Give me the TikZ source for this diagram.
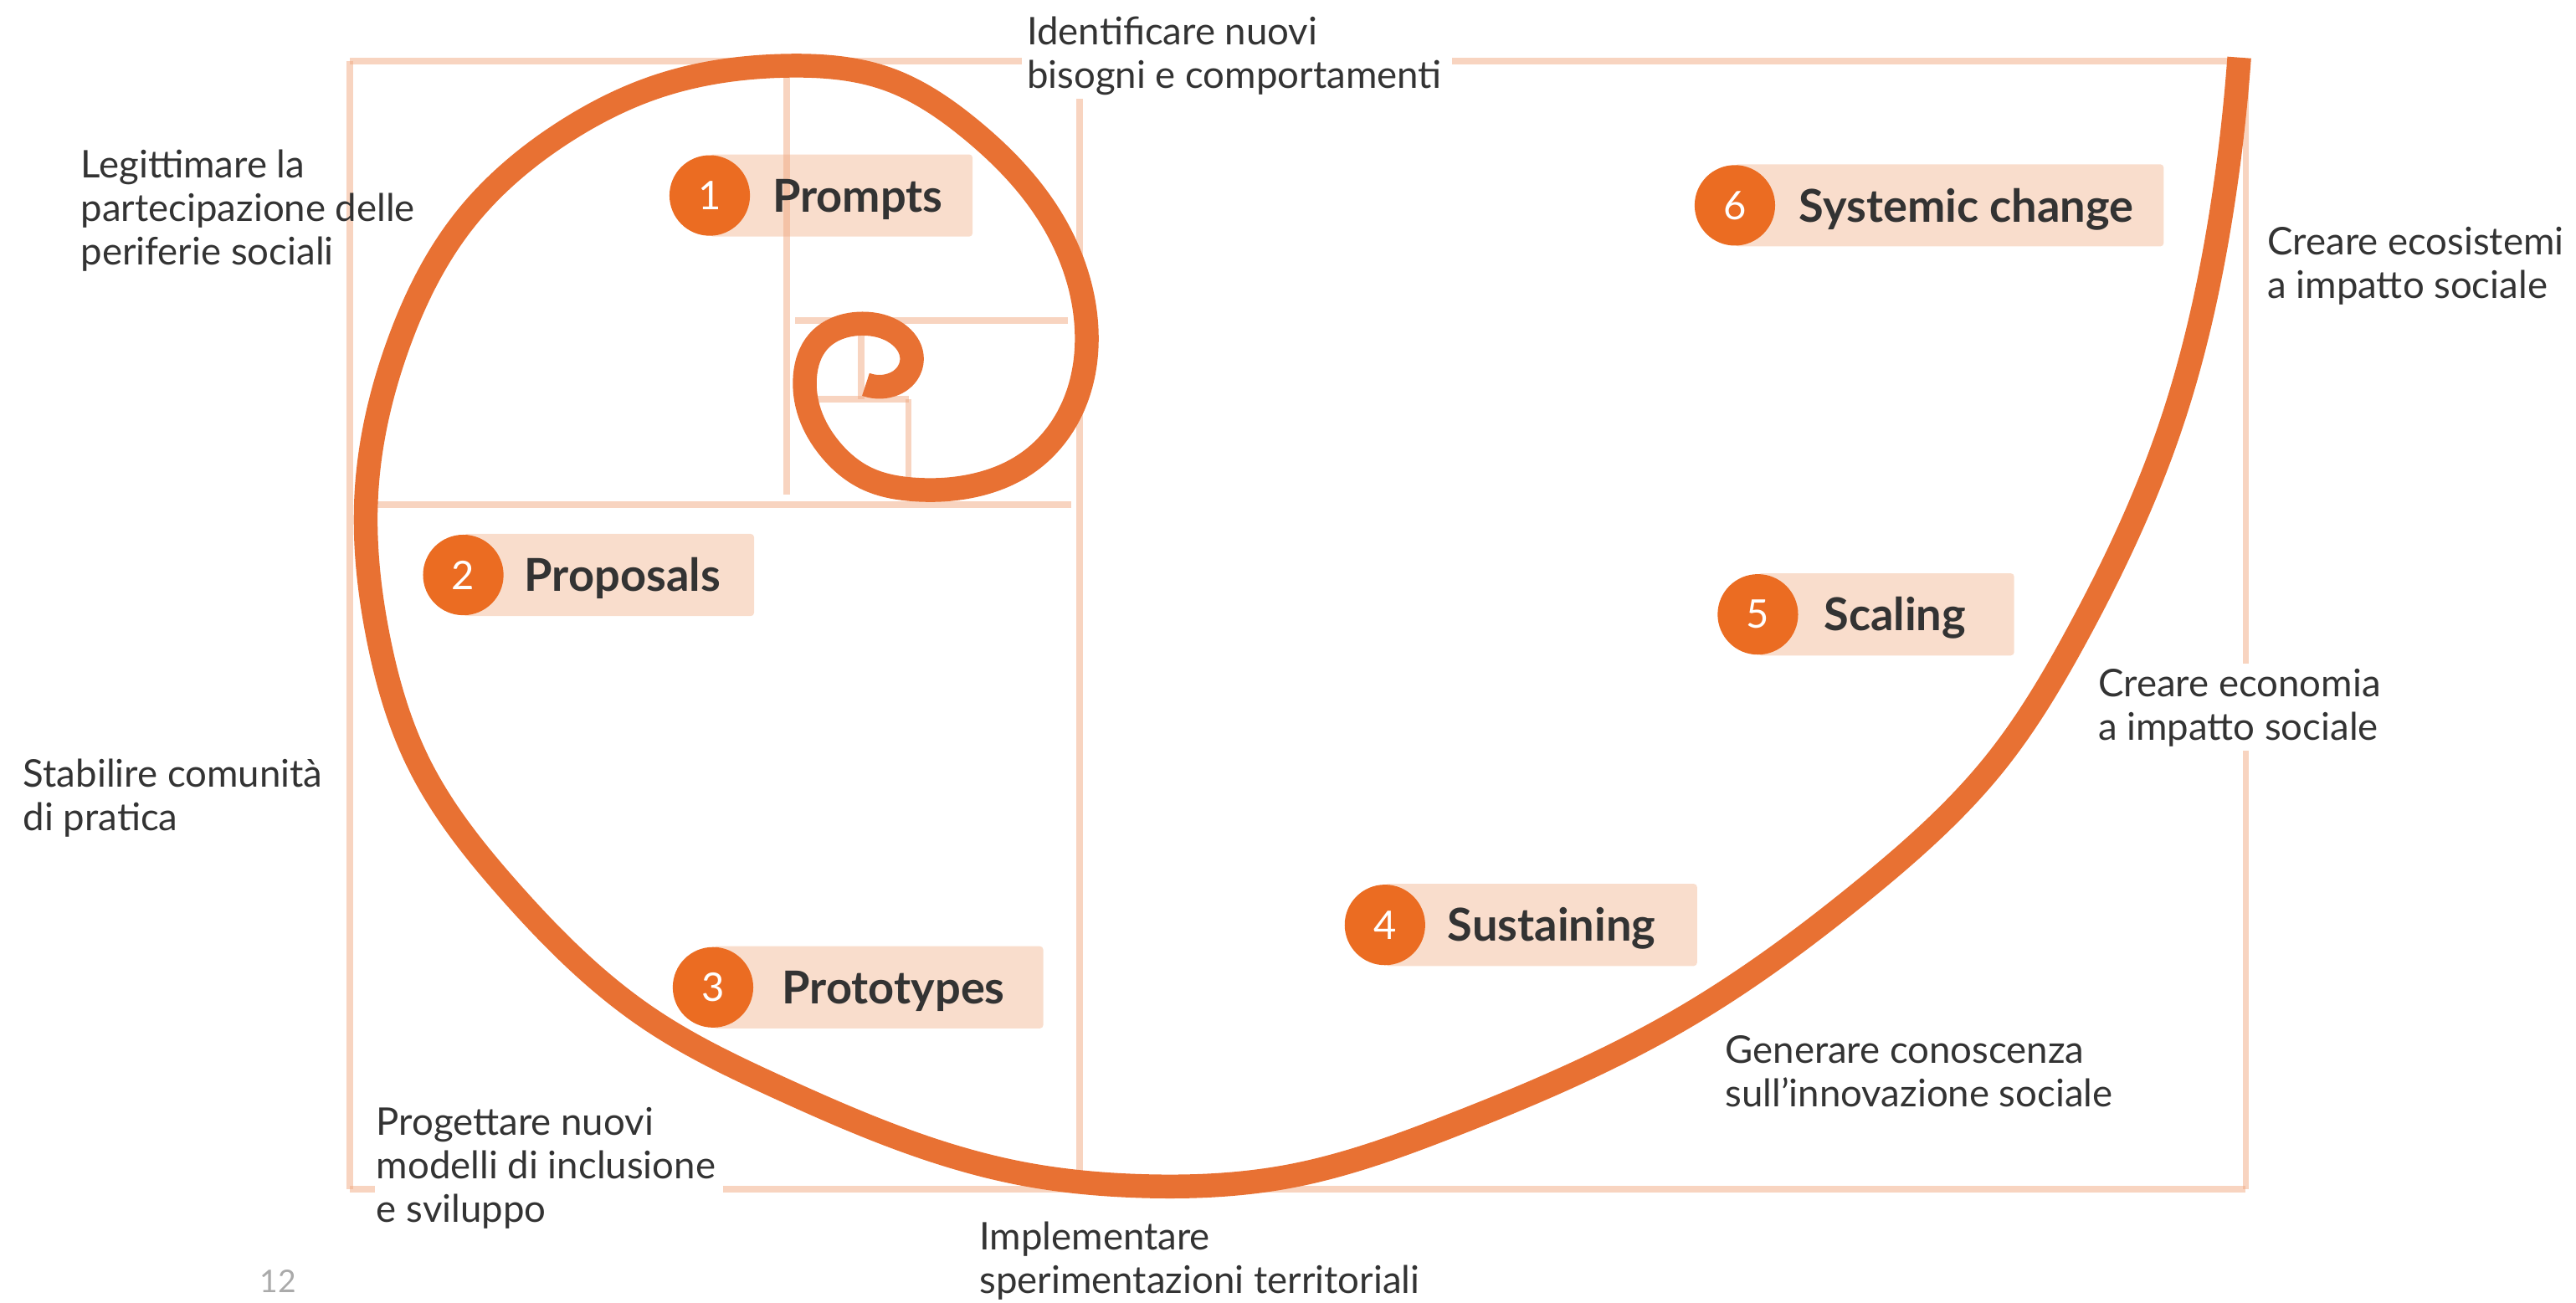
\documentclass[tikz,border=0pt]{standalone}
\usepackage{fontspec}
\usetikzlibrary{hobby}
\setmainfont{Lato}
\definecolor{spir}{RGB}{232,113,51}
\definecolor{circ}{RGB}{235,108,34}
\definecolor{boxc}{RGB}{249,221,204}
\definecolor{framec}{RGB}{241,169,129}
\definecolor{txt}{RGB}{51,51,51}
\definecolor{pagec}{RGB}{170,170,170}
\newcommand\regf{\fontsize{23.2}{26.5}\selectfont}
\newcommand\boldf{\fontsize{27.6}{32}\selectfont\bfseries}
\newcommand\numf{\fontsize{24}{28}\selectfont}
\newcommand\pagef{\fontsize{19}{23}\selectfont}
\tikzset{
  frameline/.style={draw=framec, line width=4pt, draw opacity=0.5},
  spiralline/.style={draw=spir, line width=14.5pt, line cap=butt, line join=round},
  lbl/.style={anchor=base west, inner sep=0pt, font=\regf, text=txt},
  numc/.style={circle, fill=circ, minimum size=49pt, inner sep=0pt, text=white, font=\numf},
  btxt/.style={anchor=base west, inner sep=0pt, font=\boldf, text=txt},
  boxfill/.style={fill=boxc, rounded corners=2pt}
}
\newcommand\ml[1]{\begin{tabular}[t]{@{}l@{}}#1\end{tabular}}
\begin{document}
\begin{tikzpicture}[x=1pt,y=-1pt]
\useasboundingbox (0,0) rectangle (1568,792.66);
% label boxes
\fill[boxfill] (432,94) rectangle (592,144);
\fill[boxfill] (282,325) rectangle (459,375);
\fill[boxfill] (434,576) rectangle (635,626);
\fill[boxfill] (843,538) rectangle (1033,588);
\fill[boxfill] (1070,349) rectangle (1226,399);
\fill[boxfill] (1056,100) rectangle (1317,150);
% frame
\draw[frameline] (213,37) -- (622,37);
\draw[frameline] (884,37) -- (1367,37);
\draw[frameline] (213,37) -- (213,724);
\draw[frameline] (213,724) -- (228,724);
\draw[frameline] (440,724) -- (1367,724);
\draw[frameline] (1367,37) -- (1367,404);
\draw[frameline] (1367,457) -- (1367,724);
\draw[frameline] (657,60) -- (657,724);
\draw[frameline] (228,307) -- (652,307);
\draw[frameline] (479,39) -- (479,301);
\draw[frameline] (484,195) -- (650,195);
\draw[frameline] (553,243) -- (553,291);
\draw[frameline] (484,243) -- (553,243);
\draw[frameline] (524,195) -- (524,243);
% spiral
\draw[spiralline, use Hobby shortcut]
(1363,35) .. (1352,130) .. (1321,260) .. (1264,387) .. (1214,465) .. (1134,542) .. (1024,620) ..
(884,685) .. (785,716) .. (696,722) .. (620,714) .. (474,662) ..
(395,620) .. (310,542) .. (255,465) .. (230,387) .. (223,301) .. (243,208) ..
(282,135) .. (344,80) .. (399,53) .. (480,40) ..
(540,48) .. (590,78) .. (638,130) .. (661,195) .. (651,252) .. (625,282) .. (595,295) .. (557,298) ..
(527,291) .. (505,273) .. (493,252) .. (490,229) .. (498,208) .. (525,197) .. (546,203) ..
(555,217) .. (550,230) .. (540,235) .. (527,234);
% badges
\node[numc] (c1) at (432,119) {1};
\node[btxt] (b1) at (470,129) {Prompts};
\node[numc] (c2) at (282,350) {2};
\node[btxt] (b2) at (319,360) {Proposals};
\node[numc] (c3) at (434,601) {3};
\node[btxt] (b3) at (476,611) {Prototypes};
\node[numc] (c4) at (843,563) {4};
\node[btxt] (b4) at (881,573) {Sustaining};
\node[numc] (c5) at (1070,374) {5};
\node[btxt] (b5) at (1110,384) {Scaling};
\node[numc] (c6) at (1056,125) {6};
\node[btxt] (b6) at (1095,135) {Systemic change};
% labels
\node[lbl] (l1) at (625,27) {\ml{Identificare nuovi\\bisogni e comportamenti}};
\node[lbl] (l2) at (49,108) {\ml{Legittimare la\\partecipazione delle\\periferie sociali}};
\node[lbl] (l3) at (14,479) {\ml{Stabilire comunità\\di pratica}};
\node[lbl] (l4) at (229,691) {\ml{Progettare nuovi\\modelli di inclusione\\e sviluppo}};
\node[lbl] (l5) at (596,761) {\ml{Implementare\\sperimentazioni territoriali}};
\node[lbl] (l6) at (1050,647) {\ml{Generare conoscenza\\sull’innovazione sociale}};
\node[lbl] (l7) at (1277,424) {\ml{Creare economia\\a impatto sociale}};
\node[lbl] (l8) at (1380,155) {\ml{Creare ecosistemi\\a impatto sociale}};
\node[lbl, font=\pagef, text=pagec] (pg) at (158,787) {12};
\end{tikzpicture}
\end{document}
